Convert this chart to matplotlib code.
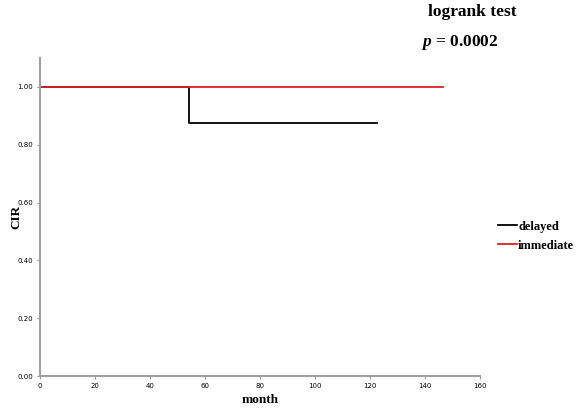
import matplotlib
matplotlib.use('Agg')
import matplotlib.pyplot as plt

# Kaplan-Meier step data
delayed_t = [0, 54, 54, 122.5]
delayed_s = [1.0, 1.0, 0.875, 0.875]
immediate_t = [0, 146.5]
immediate_s = [1.0, 1.0]

xticks = [0, 20, 40, 60, 80, 100, 120, 140, 160]
yticks = [0.0, 0.2, 0.4, 0.6, 0.8, 1.0]

plt.rcParams['mathtext.fontset'] = 'custom'
plt.rcParams['mathtext.it'] = 'Liberation Serif:italic:bold'
plt.rcParams['mathtext.rm'] = 'Liberation Serif:bold'

fig = plt.figure(figsize=(5.8, 4.11), dpi=100)
ax = fig.add_axes([0.069, 0.085, 0.759, 0.774])

ax.plot(delayed_t, delayed_s, color='black', lw=1.3, label='delayed')
ax.plot(immediate_t, immediate_s, color='#e02020', lw=1.3, label='immediate')

ax.set_xlim(0, 160)
ax.set_ylim(0, 1.1)
ax.set_xticks(xticks)
ax.set_yticks(yticks)
ax.set_xticklabels([str(x) for x in xticks])
ax.set_yticklabels(['%.2f' % y for y in yticks])
ax.tick_params(labelsize=5, length=2, color='#999999', width=0.8, pad=3)

for s in ['top', 'right']:
    ax.spines[s].set_visible(False)
for s in ['left', 'bottom']:
    ax.spines[s].set_color('#a0a0a0')
    ax.spines[s].set_linewidth(1.5)

serif = {'family': 'Liberation Serif', 'weight': 'bold'}
ax.set_xlabel('month', fontdict=serif, fontsize=9.5, labelpad=2)
ax.xaxis.set_label_coords(0.5, -0.055)
ax.set_ylabel('CIR', fontdict=serif, fontsize=9.5)
ax.yaxis.set_label_coords(-0.04, 0.5)

fig.text(0.814, 0.97, 'logrank test', fontdict=serif, fontsize=12.5, ha='center', va='center')
fig.text(0.793, 0.897, r'$p$ = 0.0002', fontdict=serif, fontsize=12.5, ha='center', va='center')

ax.legend(loc='center left', bbox_to_anchor=(1.015, 0.44), frameon=False,
          prop={'family': 'Liberation Serif', 'weight': 'bold', 'size': 9},
          handlelength=1.5, handletextpad=0.1, labelspacing=0.55)

fig.savefig('out.png', dpi=100)
